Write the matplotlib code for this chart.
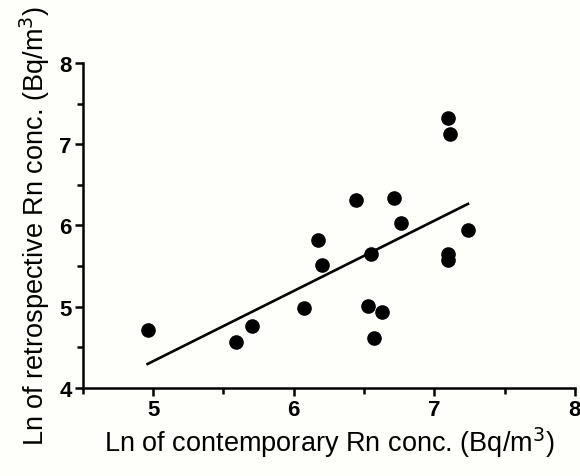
#!/usr/bin/env python3
"""Scatter of ln retrospective vs ln contemporary radon concentration with linear fit."""

import matplotlib
matplotlib.use("Agg")
import matplotlib.pyplot as plt
import numpy as np
from matplotlib.ticker import MultipleLocator

plt.rcParams["font.family"] = ["Liberation Sans", "DejaVu Sans"]

# ln of contemporary Rn concentration (x) and retrospective (y)
ln_contemporary = [4.96, 5.59, 5.70, 6.07, 6.17, 6.20, 6.44, 6.53, 6.55, 6.57,
                   6.63, 6.71, 6.76, 7.10, 7.11, 7.10, 7.10, 7.24]
ln_retrospective = [4.71, 4.56, 4.76, 4.99, 5.82, 5.51, 6.31, 5.01, 5.65, 4.62,
                    4.93, 6.34, 6.03, 7.32, 7.12, 5.65, 5.58, 5.95]

# linear regression line
FIT_SLOPE = 0.864
FIT_INTERCEPT = 0.01

x_ticks = [5, 6, 7, 8]
y_ticks = [4, 5, 6, 7, 8]

BG = "#fefefa"


def main():
    x = np.array(ln_contemporary)
    y = np.array(ln_retrospective)

    fig = plt.figure(figsize=(5.8, 4.77), dpi=100, facecolor=BG)
    ax = fig.add_axes([0.143, 0.1845, 0.848, 0.6815], facecolor=BG)

    xf = np.array([x.min(), x.max()])
    ax.plot(xf, FIT_INTERCEPT + FIT_SLOPE * xf, color="black", linewidth=1.9, zorder=2)
    ax.plot(x, y, "o", color="black", markersize=9.5, zorder=3)

    ax.set_xlim(4.5, 8)
    ax.set_ylim(4, 8)
    ax.set_xticks(x_ticks)
    ax.set_xticklabels([str(t) for t in x_ticks])
    ax.set_yticks(y_ticks)
    ax.set_yticklabels([str(t) for t in y_ticks])
    ax.xaxis.set_minor_locator(MultipleLocator(0.5))
    ax.yaxis.set_minor_locator(MultipleLocator(0.5))

    for side in ("top", "right"):
        ax.spines[side].set_visible(False)
    for side in ("left", "bottom"):
        ax.spines[side].set_linewidth(1.8)

    ax.tick_params(which="major", length=6, width=1.8, pad=2)
    ax.tick_params(which="minor", length=4, width=1.8)
    for lab in ax.get_xticklabels() + ax.get_yticklabels():
        lab.set_fontweight("bold")
        lab.set_fontsize(16)

    ax.set_xlabel("Ln of contemporary Rn conc. (Bq/m$^3$)", fontsize=19.5, labelpad=3)
    ax.set_ylabel("Ln of retrospective Rn conc. (Bq/m$^3$)", fontsize=19.5, labelpad=5)

    fig.savefig("out.png", dpi=100, facecolor=BG)
    plt.close(fig)


if __name__ == "__main__":
    main()
